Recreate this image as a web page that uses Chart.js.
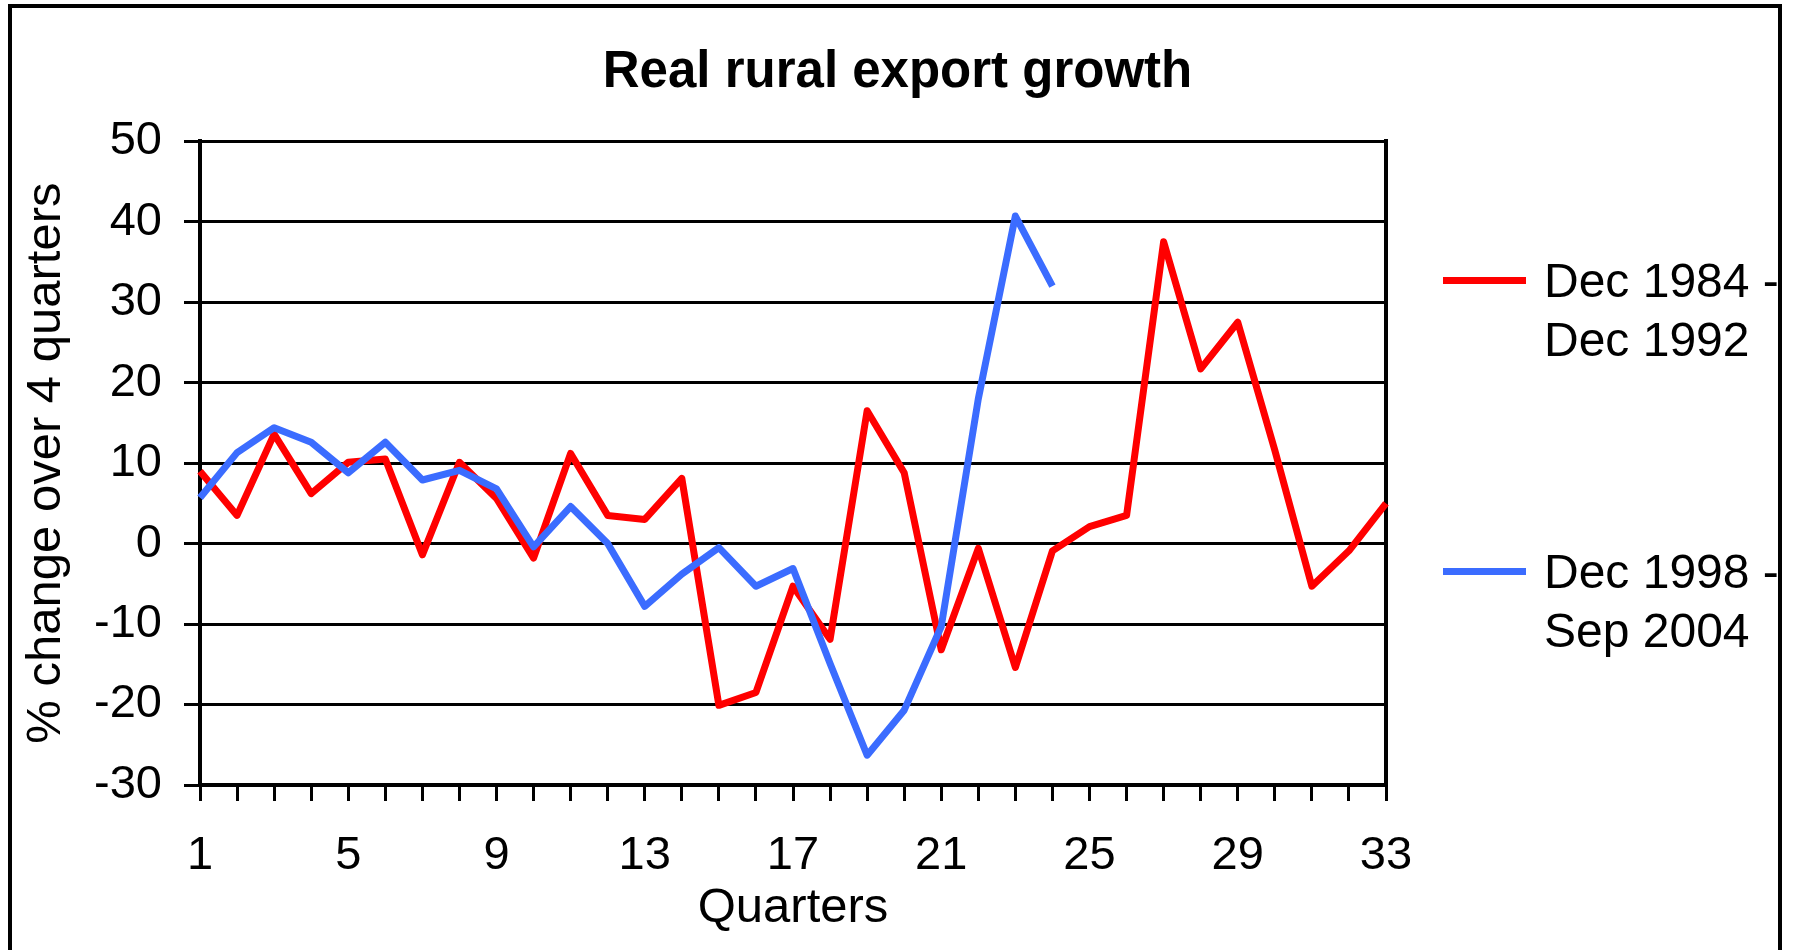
<!DOCTYPE html>
<html>
<head>
<meta charset="utf-8">
<script src="https://cdn.jsdelivr.net/npm/chart.js@4/dist/chart.umd.min.js"></script>
<style>
  html, body { margin: 0; padding: 0; background: #fff; overflow: hidden; }
  #wrap { position: relative; width: 1795px; height: 950px; }
  #c { position: absolute; left: 0; top: 0; }
  #frame { position: absolute; left: 8px; top: 4px; width: 1774px; height: 1000px; border: 4px solid #000; box-sizing: border-box; pointer-events: none; }
  #legend { position: absolute; left: 1443px; top: 251px; font-family: 'Liberation Sans', Arial, sans-serif; font-size: 48px; color: #000; }
  .item { position: absolute; left: 0; width: 360px; }
  .sw { position: absolute; left: 0; top: 26px; width: 83px; height: 7px; }
  .txt { position: absolute; left: 101px; top: 1px; width: 245px; line-height: 58.5px; white-space: normal; }
</style>
</head>
<body>
<div id="wrap">
  <canvas id="c" width="1795" height="950"></canvas>
  <div id="frame"></div>
  <div id="legend"></div>
</div>
<script>
// ---- data ----
const quarters = ['1','2','3','4','5','6','7','8','9','10','11','12','13','14','15','16','17','18','19','20','21','22','23','24','25','26','27','28','29','30','31','32','33'];
const xTickLabels = ['1','5','9','13','17','21','25','29','33'];
const seriesNames = ['Dec 1984 - Dec 1992', 'Dec 1998 - Sep 2004'];
const period1984 = [9.0, 3.5, 13.6, 6.2, 10.1, 10.5, -1.4, 10.1, 5.6, -1.8, 11.2, 3.5, 3.0, 8.1, -20.1, -18.5, -5.3, -11.9, 16.5, 8.8, -13.2, -0.6, -15.4, -0.9, 2.1, 3.5, 37.5, 21.7, 27.5, 11.6, -5.3, -0.9, 5.0];
const period1998 = [5.7, 11.3, 14.4, 12.6, 8.8, 12.6, 7.9, 9.1, 6.8, -0.4, 4.6, 0.0, -7.8, -3.8, -0.5, -5.3, -3.1, -14.9, -26.3, -20.7, -10.3, 18.0, 40.7, 32.0];
const yTicks = [-30, -20, -10, 0, 10, 20, 30, 40, 50];
const colors = ['#ff0000', '#3b6cff'];

const FONT = "'Liberation Sans', Arial, sans-serif";

const chart = new Chart(document.getElementById('c'), {
  type: 'line',
  data: {
    labels: quarters,
    datasets: [
      { label: seriesNames[0], data: period1984, borderColor: colors[0], backgroundColor: colors[0], borderWidth: 7, pointRadius: 0, tension: 0, borderJoinStyle: 'round', order: 1 },
      { label: seriesNames[1], data: period1998, borderColor: colors[1], backgroundColor: colors[1], borderWidth: 7, pointRadius: 0, tension: 0, borderJoinStyle: 'round', order: 0 }
    ]
  },
  options: {
    responsive: false,
    animation: false,
    devicePixelRatio: 1,
    layout: { padding: 0 },
    plugins: {
      legend: { display: false },
      tooltip: { enabled: false },
      title: {
        display: true,
        text: 'Real rural export growth',
        color: '#000',
        font: { family: FONT, size: 51, weight: 'bold' },
        padding: { top: 42, bottom: 38 }
      }
    },
    scales: {
      x: {
        type: 'category',
        offset: false,
        grid: { display: true, drawOnChartArea: false, drawTicks: true, tickLength: 16, tickColor: '#000', tickWidth: 3, color: '#000', lineWidth: 3 },
        border: { display: true, color: '#000', width: 4 },
        ticks: {
          autoSkip: false, maxRotation: 0, minRotation: 0, padding: 27, color: '#000',
          font: { family: FONT, size: 47 },
          callback: function(v, i) { const l = this.getLabelForValue(v); return xTickLabels.includes(l) ? l : ''; }
        },
        title: { display: true, text: 'Quarters', color: '#000', font: { family: FONT, size: 49 }, padding: { top: 12, bottom: 12 } },
        afterFit: s => { s.height = 165; }
      },
      y: {
        type: 'linear',
        position: 'left',
        min: -30, max: 50,
        afterBuildTicks: s => { s.ticks = yTicks.map(v => ({ value: v })); },
        grid: { display: true, drawOnChartArea: true, drawTicks: true, tickLength: 16, tickColor: '#000', tickWidth: 3, color: '#000', lineWidth: 3 },
        border: { display: true, color: '#000', width: 4 },
        ticks: { padding: 22, color: '#000', font: { family: FONT, size: 47 } },
        title: { display: true, text: '% change over 4 quarters', color: '#000', font: { family: FONT, size: 49 }, padding: { top: 17, bottom: 0 } },
        afterFit: s => { s.width = 200; }
      },
      yR: {
        type: 'linear',
        position: 'right',
        display: true,
        grid: { display: false },
        ticks: { display: false },
        border: { display: true, color: '#000', width: 4 },
        afterFit: s => { s.width = 409; }
      }
    }
  }
});

// HTML legend built from the chart's datasets
const legend = document.getElementById('legend');
const itemTops = [0, 291];
chart.data.datasets.forEach((ds, i) => {
  const item = document.createElement('div');
  item.className = 'item';
  item.style.top = itemTops[i] + 'px';
  const sw = document.createElement('div');
  sw.className = 'sw';
  sw.style.background = ds.borderColor;
  const txt = document.createElement('div');
  txt.className = 'txt';
  txt.textContent = ds.label;
  item.appendChild(sw);
  item.appendChild(txt);
  legend.appendChild(item);
});
</script>
</body>
</html>
